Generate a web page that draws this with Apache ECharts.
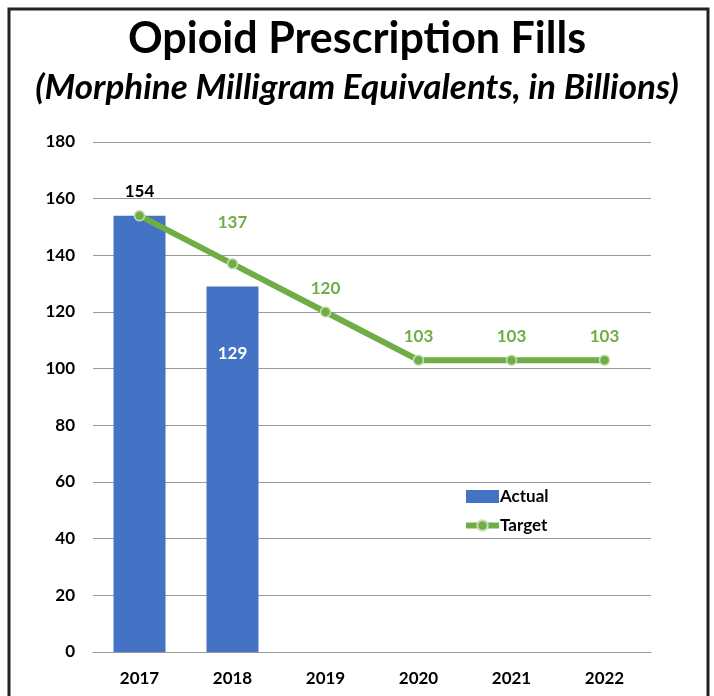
<!DOCTYPE html>
<html><head><meta charset="utf-8">
<script src="https://cdn.jsdelivr.net/npm/echarts@6/dist/echarts.min.js"></script>
<style>html,body{margin:0;padding:0;background:#fff}#c{width:714px;height:696px}</style>
</head><body><div id="c"></div>
<script>
const categories = ['2017','2018','2019','2020','2021','2022'];
const actual = [154, 129, null, null, null, null];
const target = [154, 137, 120, 103, 103, 103];
const titleText = 'Opioid Prescription Fills';
const subtitleText = '(Morphine Milligram Equivalents, in Billions)';

const FONT = 'Lato';
const chart = echarts.init(document.getElementById('c'));
const green = '#70AD47', blue = '#4472C4';

const barData = actual.map((v, i) => {
  if (i === 0) return {value: v, label: {show: true, position: 'top', distance: 16, color: '#000'}};
  if (i === 1) return {value: v, label: {show: true, position: 'insideTop', offset: [0, 54], color: '#fff'}};
  return v;
});
const lineData = target.map((v, i) => {
  if (i === 0) return {value: v, label: {show: false}};
  if (i === 1) return {value: v, label: {distance: 27}};
  return v;
});

chart.setOption({
  animation: false,
  textStyle: {fontFamily: FONT},
  graphic: [{type: 'rect', shape: {x: 9, y: 9, width: 699, height: 700}, style: {fill: 'none', stroke: '#222', lineWidth: 3}}],
  title: [
    {text: titleText, left: 'center', top: 13, textStyle: {fontFamily: FONT, fontSize: 43, fontWeight: 'bold', color: '#000'}},
    {text: subtitleText, left: 'center', top: 65, textStyle: {fontFamily: FONT, fontSize: 35, fontWeight: 'bold', fontStyle: 'italic', color: '#000'}}
  ],
  legend: {
    orient: 'vertical', left: 463, top: 488, padding: 0, itemWidth: 33, itemHeight: 13, itemGap: 12,
    textStyle: {fontFamily: FONT, fontSize: 17, fontWeight: 'bold', color: '#000', padding: [0, 0, 0, -4]},
    lineStyle: {width: 6},
    data: [{name: 'Actual', icon: 'rect'}, {name: 'Target'}]
  },
  grid: {left: 93, right: 63, top: 142, bottom: 44},
  xAxis: {
    type: 'category', data: categories,
    axisLine: {show: true, lineStyle: {color: '#999', width: 1}},
    axisTick: {show: false},
    axisLabel: {margin: 18, fontFamily: FONT, fontSize: 17, fontWeight: 'bold', color: '#000'}
  },
  yAxis: {
    type: 'value', min: 0, max: 180, interval: 20,
    axisLine: {show: false}, axisTick: {show: false},
    splitLine: {lineStyle: {color: '#999', width: 1}},
    axisLabel: {margin: 18, fontFamily: FONT, fontSize: 17, fontWeight: 'bold', color: '#000'}
  },
  series: [
    {name: 'Actual', type: 'bar', data: barData, barWidth: 52, itemStyle: {color: blue},
     label: {fontFamily: FONT, fontSize: 17, fontWeight: 'bold'}},
    {name: 'Target', type: 'line', data: lineData, symbol: 'circle', symbolSize: 10,
     lineStyle: {color: green, width: 6}, itemStyle: {color: green, borderColor: '#c5e0b4', borderWidth: 1.5},
     label: {show: true, position: 'top', distance: 9, color: green, fontFamily: FONT, fontSize: 17, fontWeight: 'bold'}}
  ]
});
</script></body></html>
